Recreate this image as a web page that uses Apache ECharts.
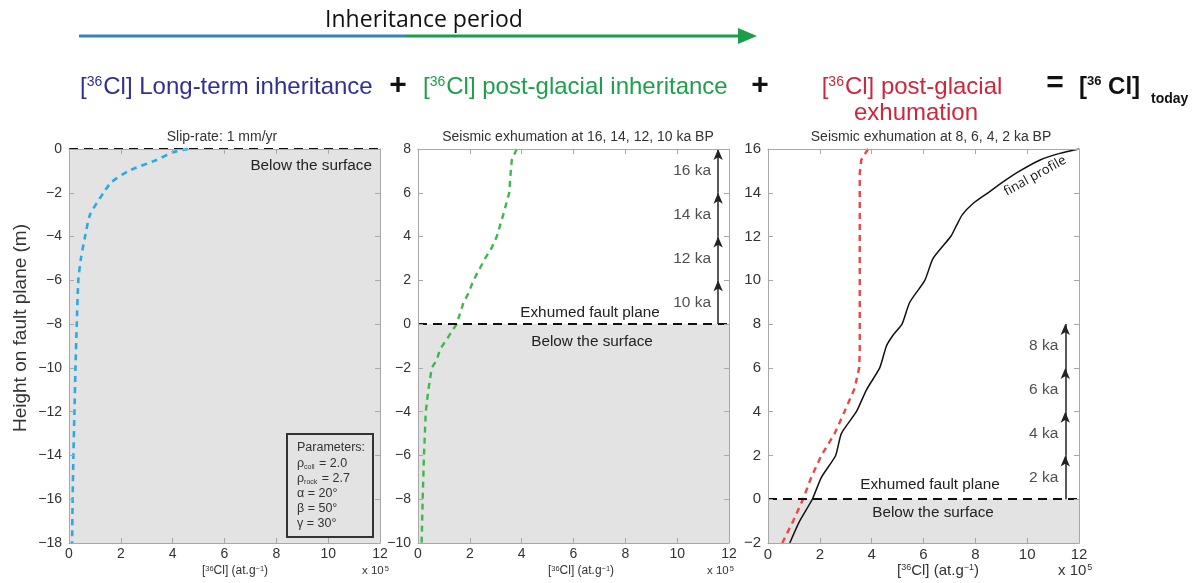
<!DOCTYPE html>
<html><head><meta charset="utf-8">
<script src="https://cdn.jsdelivr.net/npm/echarts@6/dist/echarts.min.js"></script>
<style>html,body{margin:0;padding:0;background:#fff}#c{width:1198px;height:583px}</style>
</head><body><div id="c"></div>
<script>
// ---------- data ----------
const xTickRange = [0, 12];            // [36Cl] x 10^5 at/g
const yRangeP1 = [-18, 0];
const yRangeP2 = [-10, 8];
const yRangeP3 = [-2, 16];

// Panel 1 : long-term inheritance (slip-rate 1 mm/yr)
const heightP1 = [0, -0.15, -0.5, -1, -1.5, -2, -3, -4, -5, -6, -8, -10, -12, -14, -16, -18];
const clP1     = [4.6, 4.0, 3.38, 2.3, 1.65, 1.33, 0.81, 0.62, 0.46, 0.36, 0.3, 0.25, 0.21, 0.17, 0.14, 0.12];

// Panel 2 : post-glacial inheritance
const heightP2 = [8, 7.5, 7, 6, 5, 4, 3.5, 3, 2, 1.4, 1, 0, -0.58, -1.16, -1.65, -2, -3, -4, -6, -8, -10];
const clP2     = [3.81, 3.62, 3.58, 3.52, 3.29, 3.04, 2.85, 2.59, 2.14, 1.94, 1.76, 1.49, 1.17, 0.85, 0.72, 0.53, 0.4, 0.3, 0.23, 0.18, 0.14];

// Panel 3 : post-glacial exhumation (red) and final profile (black)
const heightRed = [16, 15.5, 14.9, 14, 12, 10, 8, 6.84, 6, 5.77, 5.08, 4, 3, 2, 1, 0, -1, -2];
const clRed     = [3.86, 3.6, 3.54, 3.54, 3.54, 3.54, 3.54, 3.54, 3.52, 3.47, 3.35, 2.95, 2.57, 2.06, 1.67, 1.35, 0.97, 0.55];
const heightFinal = [16, 15.8, 15.5, 15, 14.5, 14, 13.5, 13, 12.5, 12, 11, 10, 9, 8, 7.5, 7, 6, 5, 4, 3, 2, 1, 0, -1, -2];
const clFinal     = [12, 11.26, 10.5, 9.72, 9.07, 8.49, 7.9, 7.5, 7.27, 7.05, 6.37, 6.05, 5.47, 5.17, 4.83, 4.57, 4.31, 3.8, 3.41, 2.83, 2.61, 2.06, 1.71, 1.22, 0.84];

// Exhumation events (arrows)
const arrowXP2 = 11.58;
const arrowXP3 = 11.47;
const eventLevelsP2 = [0, 2, 4, 6, 8];
const eventLabelsP2 = ['10 ka', '12 ka', '14 ka', '16 ka'];
const eventLevelsP3 = [0, 2, 4, 6, 8];
const eventLabelsP3 = ['2 ka', '4 ka', '6 ka', '8 ka'];

const panelTitles = ['Slip-rate: 1 mm/yr', 'Seismic exhumation at 16, 14, 12, 10 ka BP', 'Seismic exhumation at 8, 6, 4, 2 ka BP'];

// ---------- chart ----------
const FONT = '"Liberation Sans", Arial, Helvetica, sans-serif';
const AV = '"Open Sans", "Noto Sans", sans-serif';
const axisC = '#a8a8a8';
const labelC = '#333';
const shade = '#e3e3e3';
const grids = [
  {left: 69, top: 149, width: 311, height: 394},
  {left: 418, top: 149, width: 311, height: 394},
  {left: 768, top: 149, width: 311, height: 394}
];
const yRanges = [yRangeP1, yRangeP2, yRangeP3];
const minus = v => String(v).replace('-', '\u2212');

const xAxes = [], yAxes = [];
grids.forEach((g, i) => {
  const fs = i === 2 ? 15 : 14;
  xAxes.push({
    gridIndex: i, type: 'value', min: xTickRange[0], max: xTickRange[1], interval: 2, position: 'bottom', z: 10,
    axisLine: {onZero: false, lineStyle: {color: axisC, width: 1}},
    axisTick: {inside: true, length: 5, lineStyle: {color: axisC}},
    axisLabel: {color: labelC, fontFamily: FONT, fontSize: fs, margin: 4, formatter: minus},
    splitLine: {show: false}
  });
  xAxes.push({
    gridIndex: i, type: 'value', min: xTickRange[0], max: xTickRange[1], interval: 2, position: 'top', z: 10,
    axisLine: {onZero: false, lineStyle: {color: axisC, width: 1}},
    axisTick: {inside: true, length: 5, lineStyle: {color: axisC}},
    axisLabel: {show: false}, splitLine: {show: false}
  });
  yAxes.push({
    gridIndex: i, type: 'value', min: yRanges[i][0], max: yRanges[i][1], interval: 2, position: 'left', z: 10,
    axisLine: {onZero: false, lineStyle: {color: axisC, width: 1}},
    axisTick: {inside: true, length: 5, lineStyle: {color: axisC}},
    axisLabel: {color: labelC, fontFamily: FONT, fontSize: fs, margin: 7, formatter: minus},
    splitLine: {show: false}
  });
  yAxes.push({
    gridIndex: i, type: 'value', min: yRanges[i][0], max: yRanges[i][1], interval: 2, position: 'right', z: 10,
    axisLine: {onZero: false, lineStyle: {color: axisC, width: 1}},
    axisTick: {inside: true, length: 5, lineStyle: {color: axisC}},
    axisLabel: {show: false}, splitLine: {show: false}
  });
});

const zip = (xs, ys) => xs.map((x, k) => [x, ys[k]]);
const surfaceLine = {
  silent: true, symbol: ['none', 'none'], label: {show: false},
  lineStyle: {color: '#111', type: [9, 6], width: 2},
  data: [{yAxis: 0}]
};
const arrows = (ax, levels) => ({
  silent: true, symbol: ['none', 'arrow'], symbolSize: [7, 11], label: {show: false},
  lineStyle: {color: '#222', type: 'solid', width: 1.5},
  data: levels.slice(0, -1).map((l, k) => [{coord: [ax, l]}, {coord: [ax, levels[k + 1]]}])
});
const eventLabels = (ax, levels, labels, gi) => ({
  type: 'scatter', xAxisIndex: gi * 2, yAxisIndex: gi * 2, symbolSize: 0, silent: true, z: 5,
  data: labels.map((t, k) => [ax, (levels[k] + levels[k + 1]) / 2, t]),
  label: {show: true, position: 'left', distance: 7, color: '#222', fontFamily: FONT, fontSize: 15.5,
    formatter: p => p.data[2]}
});

const series = [
  {type: 'line', xAxisIndex: 0, yAxisIndex: 0, data: zip(clP1, heightP1), symbol: 'none', z: 3, smooth: 0.2,
   lineStyle: {color: '#2baae2', width: 2.6, type: [6, 5]}, markLine: surfaceLine,
   markArea: {silent: true, itemStyle: {color: shade}, data: [[{yAxis: yRangeP1[0]}, {yAxis: 0}]]}},
  {type: 'line', xAxisIndex: 2, yAxisIndex: 2, data: zip(clP2, heightP2), symbol: 'none', z: 3,
   lineStyle: {color: '#3cb94a', width: 2.4, type: [6, 5]}, markLine: surfaceLine,
   markArea: {silent: true, itemStyle: {color: shade}, data: [[{yAxis: yRangeP2[0]}, {yAxis: 0}]]}},
  {type: 'line', xAxisIndex: 2, yAxisIndex: 2, data: [], symbol: 'none', markLine: arrows(arrowXP2, eventLevelsP2)},
  eventLabels(arrowXP2, eventLevelsP2, eventLabelsP2, 1),
  {type: 'line', xAxisIndex: 4, yAxisIndex: 4, data: zip(clRed, heightRed), symbol: 'none', z: 3,
   lineStyle: {color: '#f04444', width: 2.4, type: [6, 5]}, markLine: surfaceLine,
   markArea: {silent: true, itemStyle: {color: shade}, data: [[{yAxis: yRangeP3[0]}, {yAxis: 0}]]}},
  {type: 'line', xAxisIndex: 4, yAxisIndex: 4, data: zip(clFinal, heightFinal), symbol: 'none', z: 4, smooth: 0.2,
   lineStyle: {color: '#111', width: 1.5}},
  {type: 'line', xAxisIndex: 4, yAxisIndex: 4, data: [], symbol: 'none', markLine: arrows(arrowXP3, eventLevelsP3)},
  eventLabels(arrowXP3, eventLevelsP3, eventLabelsP3, 2)
];

const sup = (fs, pad) => ({fontSize: fs, verticalAlign: 'top', padding: [0, 1, pad, 0]});
const txt = (x, y, text, o) => ({type: 'text', x, y, z: 100, silent: true,
  style: Object.assign({text, fill: '#222', font: '14px ' + FONT, align: 'center', verticalAlign: 'middle'}, o || {})});
const xName = (x, fs, sfs, pad) => txt(x, 571, '[{s|36}Cl] (at.g{s|\u22121})', {font: fs + 'px ' + FONT, fill: labelC,
  rich: {s: {font: sfs + 'px ' + FONT, fill: labelC, verticalAlign: 'top', padding: [0, 0, pad, 0]}}});
const xPow = (x, fs, sfs, pad) => txt(x, 571, 'x 10{s|5}', {align: 'left', font: fs + 'px ' + FONT, fill: labelC,
  rich: {s: {font: sfs + 'px ' + FONT, fill: labelC, verticalAlign: 'top', padding: [0, 0, pad, 1]}}});

const graphic = [
  // Inheritance period arrow
  txt(424, 20, 'Inheritance period', {font: '23px ' + AV, fill: '#111'}),
  {type: 'line', silent: true, shape: {x1: 79, y1: 36, x2: 406, y2: 36}, style: {stroke: '#3a80c3', lineWidth: 3}},
  {type: 'line', silent: true, shape: {x1: 406, y1: 36, x2: 742, y2: 36}, style: {stroke: '#1a9e4a', lineWidth: 3}},
  {type: 'polygon', silent: true, shape: {points: [[738, 28], [757, 36], [738, 44]]}, style: {fill: '#1a9e4a'}},
  // equation row
  txt(80, 87, '[{s|36}Cl] Long-term inheritance', {align: 'left', font: '24px ' + FONT, fill: '#2e3192',
    rich: {s: Object.assign(sup(14, 9), {fill: '#2e3192', font: '14px ' + FONT})}}),
  txt(398, 86, '+', {font: 'bold 30px ' + FONT, fill: '#111'}),
  txt(423, 87, '[{s|36}Cl] post-glacial inheritance', {align: 'left', font: '24px ' + FONT, fill: '#1ea04b',
    rich: {s: Object.assign(sup(14, 9), {fill: '#1ea04b', font: '14px ' + FONT})}}),
  txt(760, 86, '+', {font: 'bold 30px ' + FONT, fill: '#111'}),
  txt(912, 87, '[{s|36}Cl] post-glacial', {font: '24px ' + FONT, fill: '#d0263a',
    rich: {s: Object.assign(sup(14, 9), {fill: '#d0263a', font: '14px ' + FONT})}}),
  txt(916, 113, 'exhumation', {font: '24px ' + FONT, fill: '#d0263a'}),
  txt(1055, 84, '=', {font: 'bold 30px ' + FONT, fill: '#111'}),
  txt(1079, 87, '[{s|36} Cl]', {align: 'left', font: 'bold 24px ' + FONT, fill: '#111',
    rich: {s: {font: 'bold 13px ' + FONT, fill: '#111', verticalAlign: 'top', padding: [0, 0, 9, 0]}}}),
  txt(1151, 99, 'today', {align: 'left', font: 'bold 14px ' + FONT, fill: '#111'}),
  // y axis name
  {type: 'text', x: 21, y: 328, rotation: Math.PI / 2, z: 100, silent: true,
   style: {text: 'Height on fault plane (m)', font: '19px ' + FONT, fill: labelC, align: 'center', verticalAlign: 'middle'}},
  // panel titles
  txt(222, 137, panelTitles[0], {font: '14px ' + FONT, fill: '#333'}),
  txt(578, 137, panelTitles[1], {font: '14px ' + FONT, fill: '#333'}),
  txt(931, 137, panelTitles[2], {font: '14px ' + FONT, fill: '#333'}),
  // x axis names and x 10^5
  xName(235, 12, 7.5, 4), xName(581, 12, 7.5, 4), xName(938, 15, 9, 5),
  xPow(362, 11.5, 7.5, 4), xPow(707, 11.5, 7.5, 4), xPow(1058, 15, 9, 5),
  // region labels
  txt(372, 166, 'Below the surface', {align: 'right', font: '15.3px ' + FONT, fill: '#222'}),
  txt(590, 313, 'Exhumed fault plane', {font: '15.3px ' + FONT, fill: '#222'}),
  txt(592, 342, 'Below the surface', {font: '15.3px ' + FONT, fill: '#222'}),
  txt(930, 485, 'Exhumed fault plane', {font: '15.3px ' + FONT, fill: '#222'}),
  txt(933, 513, 'Below the surface', {font: '15.3px ' + FONT, fill: '#222'}),
  // final profile label
  {type: 'text', x: 1035, y: 176, rotation: 29 * Math.PI / 180, z: 100, silent: true,
   style: {text: 'final profile', font: '13px ' + AV, fill: '#111', align: 'center', verticalAlign: 'middle'}},
  // parameters box
  {type: 'rect', z: 90, silent: true, shape: {x: 287, y: 434, width: 86, height: 103},
   style: {fill: shade, stroke: '#333', lineWidth: 2}},
  txt(297, 448, 'Parameters:', {align: 'left', font: '12.5px ' + FONT, fill: '#333'}),
  txt(297, 464, '\u03c1{b|coll} = 2.0', {align: 'left', font: '12.5px ' + FONT, fill: '#333', rich: {b: {font: '7px ' + FONT, fill: '#333', verticalAlign: 'bottom', padding: [5, 1, 0, 0]}}}),
  txt(297, 479, '\u03c1{b|rock} = 2.7', {align: 'left', font: '12.5px ' + FONT, fill: '#333', rich: {b: {font: '7px ' + FONT, fill: '#333', verticalAlign: 'bottom', padding: [5, 1, 0, 0]}}}),
  txt(297, 494, '\u03b1 = 20\u00b0', {align: 'left', font: '12.5px ' + FONT, fill: '#333'}),
  txt(297, 509, '\u03b2 = 50\u00b0', {align: 'left', font: '12.5px ' + FONT, fill: '#333'}),
  txt(297, 524, '\u03b3 = 30\u00b0', {align: 'left', font: '12.5px ' + FONT, fill: '#333'})
];

const chart = echarts.init(document.getElementById('c'), null, {renderer: 'canvas'});
chart.setOption({
  backgroundColor: '#fff',
  animation: false,
  grid: grids.map(g => Object.assign({containLabel: false, outerBoundsMode: 'none'}, g)),
  xAxis: xAxes,
  yAxis: yAxes,
  series,
  graphic
});
</script></body></html>
